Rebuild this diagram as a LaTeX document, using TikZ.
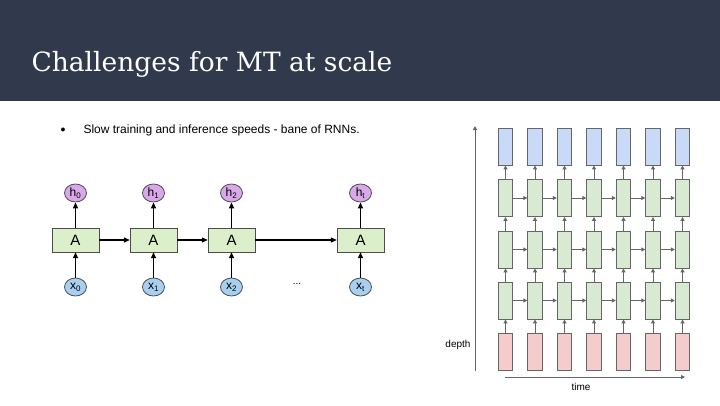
\documentclass[tikz,border=0pt]{standalone}
\usepackage{fontspec}
\setmainfont{Liberation Sans}
\newfontfamily\titlefont{DejaVu Serif}
\usetikzlibrary{arrows.meta,shapes.geometric}
\definecolor{hdr}{HTML}{303A4C}
\definecolor{gfill}{HTML}{D9EAD3}
\definecolor{bfill}{HTML}{C9DAF8}
\definecolor{rfill}{HTML}{F4CCCC}
\definecolor{edge}{HTML}{666666}
\definecolor{abox}{HTML}{DCEFCB}
\definecolor{hcirc}{HTML}{D8A8E8}
\definecolor{xcirc}{HTML}{A8CFEF}
\tikzset{
 cell/.style={draw=edge,line width=0.9pt,minimum width=14.5pt,minimum height=37pt,inner sep=0},
 gar/.style={-{Triangle[length=4pt,width=4pt]},edge,line width=1pt},
 abx/.style={draw=black!70,fill=abox,minimum width=47pt,minimum height=24pt,inner sep=0,font=\fontsize{15}{15}\selectfont},
 hn/.style={draw=black!70,line width=0.8pt,fill=hcirc,ellipse,minimum width=22pt,minimum height=18pt,inner sep=0,font=\fontsize{12}{12}\selectfont},
 xn/.style={draw=black!70,line width=0.8pt,fill=xcirc,ellipse,minimum width=22pt,minimum height=18pt,inner sep=0,font=\fontsize{12}{12}\selectfont},
 bar/.style={-{Triangle[length=6pt,width=5pt]},black,line width=1.2pt}
}
\begin{document}
\begin{tikzpicture}[x=1pt,y=-1pt]
\useasboundingbox (0,0) rectangle (720,405);
\fill[hdr] (0,0) rectangle (720,101);
\node[anchor=west,text=white,font=\titlefont\fontsize{26.5}{26.5}\selectfont] (title) at (28,64) {Challenges for MT at scale};
\node[font=\fontsize{9}{9}\selectfont] (bul) at (63,130) {●};
\node[anchor=west,font=\fontsize{12}{12}\selectfont] (btxt) at (80,130) {Slow training and inference speeds - bane of RNNs.};
% left RNN
\foreach \i/\x/\s in {0/75.5/0,1/153.5/1,2/231.5/2,3/360.5/t}{
 \node[abx] (A\i) at (\x,240) {A};
 \node[hn] (h\i) at (\x,193) {h\textsubscript{\s}};
 \node[xn] (x\i) at (\x,287) {x\textsubscript{\s}};
 \draw[bar] (x\i) -- (A\i);
 \draw[bar] (A\i) -- (h\i);
}
\draw[bar] (A0) -- (A1);
\draw[bar] (A1) -- (A2);
\draw[bar] (A2) -- (A3);
\node (dots) at (297,284) {...};
% right grid
\foreach \c/\x in {1/505.5,2/535,3/564.5,4/594,5/623.5,6/653,7/682.5}{
 \node[cell,fill=bfill] (b\c) at (\x,146.5) {};
 \node[cell,fill=gfill] (g3\c) at (\x,198) {};
 \node[cell,fill=gfill] (g2\c) at (\x,249.5) {};
 \node[cell,fill=gfill] (g1\c) at (\x,300.5) {};
 \node[cell,fill=rfill] (r\c) at (\x,352) {};
 \draw[gar] (r\c) -- (g1\c);
 \draw[gar] (g1\c) -- (g2\c);
 \draw[gar] (g2\c) -- (g3\c);
 \draw[gar] (g3\c) -- (b\c);
}
\foreach \a/\b in {1/2,2/3,3/4,4/5,5/6,6/7}{
 \foreach \r in {1,2,3}{\draw[gar] (g\r\a) -- (g\r\b);}
}
\coordinate (d0) at (475,371);
\coordinate (d1) at (475,126);
\draw[gar] (d0) -- (d1);
\coordinate (t0) at (505,377);
\coordinate (t1) at (685,377);
\draw[gar] (t0) -- (t1);
\node[font=\fontsize{10}{10}\selectfont] (time) at (581,387) {time};
\node[font=\fontsize{10}{10}\selectfont] (depth) at (458,345) {depth};
\end{tikzpicture}
\end{document}
